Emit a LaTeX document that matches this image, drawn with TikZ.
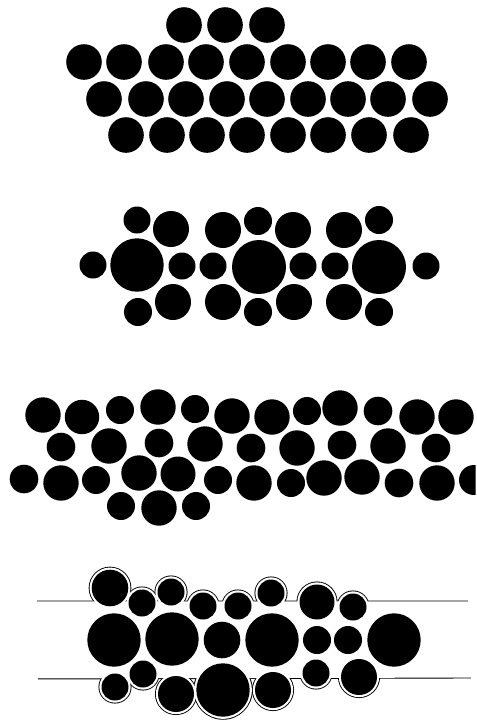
\documentclass[tikz,border=0pt]{standalone}
\begin{document}
\begin{tikzpicture}[x=1pt,y=-1pt]
\tikzset{
  dot/.style={fill=black},
  inkfill/.style={fill=black,draw=none},
  clearfill/.style={fill=white,draw=none}
}
\useasboundingbox (0,0) rectangle (477,721);
\clip (0,0) rectangle (475.5,721);
% ---------- Panel 1: regular packing ----------
\foreach \x in {184,225,267} \fill[dot] (\x,25) circle (17.8pt);
\foreach \x in {84,124,166,206,247,288,328,368,409} \fill[dot] (\x,62) circle (17.8pt);
\foreach \x in {104,146,186,227,267,308,348,388,430} \fill[dot] (\x,99) circle (17.8pt);
\foreach \x in {126,167,207,247,288,328,369,411} \fill[dot] (\x,135) circle (17.8pt);
% ---------- Panel 2: three clusters ----------
\foreach \x/\y/\r in {
  137/265/26.7, 137/220/13.5, 171/229/18, 93/265/13.5, 182/266/13.5, 173/302/18, 138/312/14,
  259/267/27, 213/266/13.5, 303/266/13.5, 223/230/18, 258/221/14, 293/230/18, 223/302/18, 258/312/14, 294/302/18,
  379/267/27, 335/266/13.5, 426/266/13.5, 344/230/18, 379/220/14, 344/302/18, 379/312/14}
  \fill[dot] (\x,\y) circle (\r pt);
% ---------- Panel 3: irregular band ----------
\foreach \x/\y/\r in {
  43/415/17.7, 82/417/17.2, 120/410/14, 158/407/17.7, 195/409/14, 232/416/17.7, 272/417/17.7,
  307/411/14, 340/408/17.7, 378/411/14.3, 417/417/17.7, 456/417/17.7,
  61/447/14.3, 109/446/17.7, 159/443/14.3, 205/444/17.7, 251/448/14.3, 297/448/17.7,
  342/445/14.3, 388/446/17.7, 436/448/14.3,
  24/479/14.3, 61/483/17.7, 96/480/14, 139/473/17.7, 178/474/17.5, 218/480/14, 254/483/17.7,
  291/483/14, 324/478/17.7, 362/477/17.7, 399/483/14.3, 437/483/17.7, 474/480/15,
  121/506/14, 159/508/17.7, 196/506/14}
  \fill[dot] (\x,\y) circle (\r pt);
% ---------- Panel 4: channel with wall ----------
\coordinate (tl) at (37,601);
\coordinate (bl) at (38,679);
\coordinate (tr) at (468,601);
\coordinate (br) at (471,678);
% outline of the union (channel band + envelopes), line width 0.9
\fill[inkfill] ([yshift=0.45pt]tl) -- ([yshift=0.45pt]tr) -- ([yshift=-0.45pt]br) -- ([yshift=-0.45pt]bl) -- cycle;
\foreach \x/\y/\R in {110/588/20.9, 142/603/16.1, 171/592/16.1, 203/606/16.1, 238/606/16.1, 271/593/16.1, 317/602/20.1, 353/607/16.1,
  115/687/16.1, 143/674/16.1, 176/694/20.6, 223/690/29.3, 273/690/20.6, 316/673/16.1, 359/677/20.6}
  {\pgfmathsetmacro\Ro{\R+0.45} \fill[inkfill] (\x,\y) circle (\Ro pt);}
\fill[clearfill] (-10,601.45) -- (490,601.45) -- (490,677.55) -- (-10,678.55) -- cycle;
\foreach \x/\y/\R in {110/588/20.9, 142/603/16.1, 171/592/16.1, 203/606/16.1, 238/606/16.1, 271/593/16.1, 317/602/20.1, 353/607/16.1,
  115/687/16.1, 143/674/16.1, 176/694/20.6, 223/690/29.3, 273/690/20.6, 316/673/16.1, 359/677/20.6}
  {\pgfmathsetmacro\Ri{\R-0.45} \fill[clearfill] (\x,\y) circle (\Ri pt);}
% particles
\foreach \x/\y/\r in {110/588/18.3, 142/603/13.5, 171/592/13.5, 203/606/13.5, 238/606/13.5, 271/593/13.5, 317/602/17.5, 353/607/13.5,
  114/640/26.7, 172/639/26.7, 222/640/18.3, 272/640/26.7, 317/640/14, 348/640/14, 394/640/26.7,
  115/687/13.5, 143/674/13.5, 176/694/18, 223/690/26.7, 273/690/18, 316/673/13.5, 359/677/18}
  \fill[dot] (\x,\y) circle (\r pt);
\end{tikzpicture}
\end{document}
